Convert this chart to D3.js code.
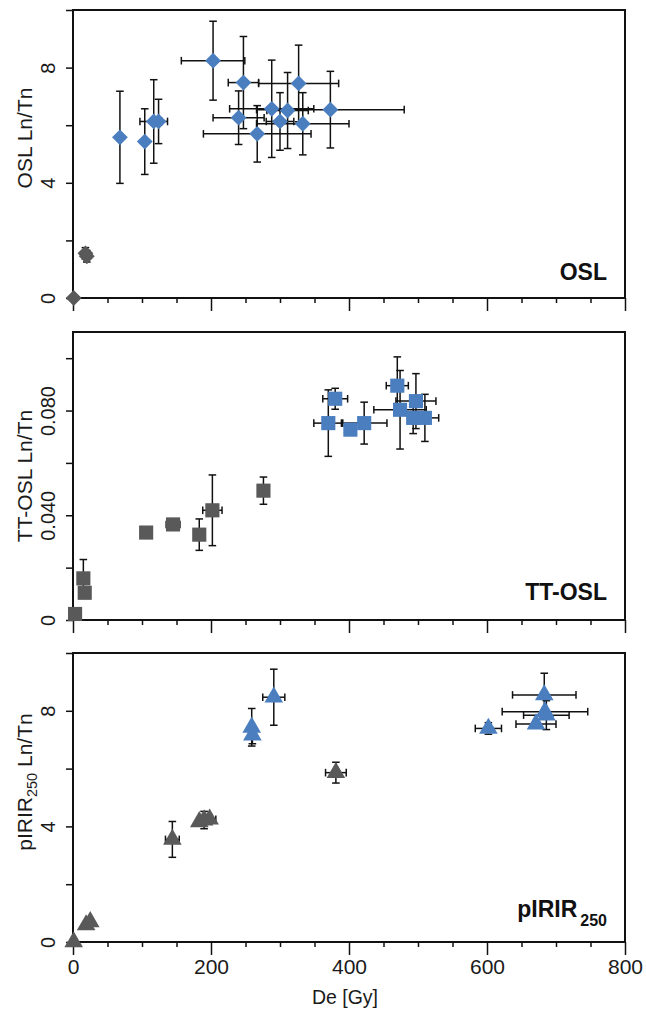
<!DOCTYPE html>
<html><head><meta charset="utf-8">
<script src="https://cdn.jsdelivr.net/npm/d3@7"></script>
<style>body{margin:0;background:#fff}svg{display:block}</style>
</head><body><svg id="c" width="646" height="1013"></svg>
<script>
// ---------- data ----------
const deTicks = d3.range(0, 801, 50);
const deLabels = [0, 200, 400, 600, 800];

// OSL panel
const oslGreyDe    = [1, 18, 20];
const oslGreyLn    = [0, 1.55, 1.45];
const oslGreyDeErr = [0, 3, 3];
const oslGreyLnErr = [0, 0.2, 0.2];
const oslBlueDe    = [68, 104, 117, 124, 203, 247, 240, 267, 288, 300, 311, 327, 333, 373];
const oslBlueLn    = [5.58, 5.43, 6.13, 6.13, 8.24, 7.48, 6.26, 5.70, 6.57, 6.13, 6.51, 7.45, 6.05, 6.54];
const oslBlueDeErr = [0, 0, 20, 5, 46, 22, 37, 78, 61, 20, 30, 58, 67, 107];
const oslBlueLnErr = [1.6, 1.14, 1.45, 0.77, 1.37, 1.6, 0.93, 0.98, 1.69, 1.0, 1.32, 1.33, 1.08, 1.33];
const oslYTicks  = [0, 2, 4, 6, 8, 10];
const oslYLabels = {0: "0", 4: "4", 8: "8"};

// TT-OSL panel
const ttGreyDe    = [3, 15, 17, 106, 145, 183, 202, 276];
const ttGreyLn    = [0.0023, 0.0159, 0.0104, 0.0334, 0.0365, 0.0326, 0.0419, 0.0494];
const ttGreyDeErr = [0, 0, 0, 0, 10, 0, 14, 8];
const ttGreyLnErr = [0, 0.0072, 0, 0, 0, 0.006, 0.0135, 0.0052];
const ttBlueDe    = [370, 380, 402, 422, 470, 474, 497, 493, 510];
const ttBlueLn    = [0.0752, 0.0845, 0.0727, 0.0752, 0.0895, 0.0803, 0.0836, 0.0772, 0.0772];
const ttBlueDeErr = [21, 18, 0, 33, 16, 38, 29, 0, 20];
const ttBlueLnErr = [0.0127, 0.004, 0, 0.008, 0.011, 0.015, 0.0105, 0.006, 0.009];
const ttYTicks  = [0, 0.02, 0.04, 0.06, 0.08, 0.1];
const ttYLabels = {0: "0", 0.04: "0.040", 0.08: "0.080"};

// pIRIR250 panel
const irGreyDe    = [1, 19, 25, 144, 183, 190, 198, 381];
const irGreyLn    = [0, 0.59, 0.70, 3.55, 4.16, 4.22, 4.25, 5.86];
const irGreyDeErr = [0, 0, 0, 10, 0, 0, 9, 15];
const irGreyLnErr = [0, 0, 0, 0.62, 0, 0.3, 0, 0.36];
const irBlueDe    = [259, 260, 291, 602, 683, 684, 686, 671];
const irBlueLn    = [7.43, 7.16, 8.47, 7.39, 8.55, 7.97, 7.85, 7.54];
const irBlueDeErr = [0, 0, 16, 19, 46, 62, 33, 29];
const irBlueLnErr = [0.65, 0.3, 0.97, 0.2, 0.75, 0, 0.5, 0];
const irYTicks  = [0, 2, 4, 6, 8, 10];
const irYLabels = {0: "0", 4: "4", 8: "8"};

// ---------- drawing ----------
const BLUE = "#4a7ebf", GREY = "#595959";
const FONT = "'Liberation Sans', Arial, sans-serif";
const svg = d3.select("#c");
const L = 73, R = 625;
const x = d3.scaleLinear().domain([0, 800]).range([L, R]);

function zip(de, ln, dee, lne) {
  return de.map((d, i) => ({de: d, ln: ln[i], dee: dee[i], lne: lne[i]}));
}

const panels = [
  {top: 10, bottom: 298, ymax: 10, yTicks: oslYTicks, yLabels: oslYLabels, shape: "diamond",
   grey: zip(oslGreyDe, oslGreyLn, oslGreyDeErr, oslGreyLnErr),
   blue: zip(oslBlueDe, oslBlueLn, oslBlueDeErr, oslBlueLnErr),
   title: [["OSL Ln/Tn", false]], titleY: 138, tag: [["OSL", false]], tagY: 280, xlab: false},
  {top: 332, bottom: 620, ymax: 0.11, yTicks: ttYTicks, yLabels: ttYLabels, shape: "square",
   grey: zip(ttGreyDe, ttGreyLn, ttGreyDeErr, ttGreyLnErr),
   blue: zip(ttBlueDe, ttBlueLn, ttBlueDeErr, ttBlueLnErr),
   title: [["TT-OSL Ln/Tn", false]], titleY: 476, tag: [["TT-OSL", false]], tagY: 600, xlab: false},
  {top: 653, bottom: 942, ymax: 10, yTicks: irYTicks, yLabels: irYLabels, shape: "triangle",
   grey: zip(irGreyDe, irGreyLn, irGreyDeErr, irGreyLnErr),
   blue: zip(irBlueDe, irBlueLn, irBlueDeErr, irBlueLnErr),
   title: [["pIRIR", false], ["250", true], [" Ln/Tn", false]], titleY: 782,
   tag: [["pIRIR", false], ["250", true]], tagY: 917, xlab: true}
];

panels.forEach(p => {
  const y = d3.scaleLinear().domain([0, p.ymax]).range([p.bottom, p.top]);
  const g = svg.append("g");

  // x axis
  const xa = g.append("g").attr("transform", `translate(0,${p.bottom})`)
    .call(d3.axisBottom(x).tickValues(deTicks).tickSizeOuter(0)
      .tickFormat(d => (p.xlab && deLabels.includes(d)) ? d : ""));
  xa.select(".domain").remove();
  xa.selectAll(".tick line").attr("y2", d => d % 200 === 0 ? 13 : 5)
    .attr("stroke", "#111").attr("stroke-width", 1.5);
  xa.selectAll(".tick text").attr("y", 32).attr("dy", 0)
    .attr("font-family", FONT).attr("font-size", 21).attr("fill", "#1a1a1a");

  // y axis
  const ya = g.append("g").attr("transform", `translate(${L},0)`)
    .call(d3.axisLeft(y).tickValues(p.yTicks).tickSize(7).tickSizeOuter(0)
      .tickFormat(d => { const k = Object.keys(p.yLabels).find(v => Math.abs(+v - d) < 1e-9); return k !== undefined ? p.yLabels[k] : ""; }));
  ya.select(".domain").remove();
  ya.selectAll(".tick line").attr("stroke", "#111").attr("stroke-width", 1.5);
  ya.selectAll(".tick text").attr("x", null).attr("dy", 0).attr("y", 0)
    .attr("transform", "translate(-18,0) rotate(-90)")
    .attr("text-anchor", "middle")
    .attr("font-family", FONT).attr("font-size", 20).attr("fill", "#1a1a1a");

  // frame
  g.append("rect").attr("x", L).attr("y", p.top).attr("width", R - L).attr("height", p.bottom - p.top)
    .attr("fill", "none").attr("stroke", "#111").attr("stroke-width", 2);

  // y title
  const t = g.append("text").attr("transform", `translate(32,${p.titleY}) rotate(-90)`)
    .attr("text-anchor", "middle").attr("font-family", FONT).attr("font-size", 21).attr("fill", "#1a1a1a");
  p.title.forEach(([s, sub]) => {
    const ts = t.append("tspan").text(s);
    if (sub) ts.attr("font-size", 14.5).attr("dy", 5);
    else if (t.selectAll("tspan").size() > 1) ts.attr("dy", -5);
  });

  // panel tag
  const tg = g.append("text").attr("x", 607).attr("y", p.tagY).attr("text-anchor", "end")
    .attr("font-family", FONT).attr("font-weight", "bold").attr("font-size", 23).attr("fill", "#111");
  p.tag.forEach(([s, sub]) => {
    const ts = tg.append("tspan").text(s);
    if (sub) ts.attr("font-size", 16).attr("dy", 9).attr("dx", 3);
  });

  // error bars
  const all = p.grey.concat(p.blue);
  const eb = g.append("g").attr("stroke", "#111").attr("stroke-width", 1.5).attr("fill", "none");
  const cap = 3.8;
  all.forEach(d => {
    const cx = x(d.de), cy = y(d.ln);
    if (d.lne > 0) {
      const y1 = y(d.ln - d.lne), y2 = y(d.ln + d.lne);
      eb.append("line").attr("x1", cx).attr("x2", cx).attr("y1", y1).attr("y2", y2);
      eb.append("line").attr("x1", cx - cap).attr("x2", cx + cap).attr("y1", y1).attr("y2", y1);
      eb.append("line").attr("x1", cx - cap).attr("x2", cx + cap).attr("y1", y2).attr("y2", y2);
    }
    if (d.dee > 0) {
      const x1 = x(d.de - d.dee), x2 = x(d.de + d.dee);
      eb.append("line").attr("x1", x1).attr("x2", x2).attr("y1", cy).attr("y2", cy);
      eb.append("line").attr("x1", x1).attr("x2", x1).attr("y1", cy - cap).attr("y2", cy + cap);
      eb.append("line").attr("x1", x2).attr("x2", x2).attr("y1", cy - cap).attr("y2", cy + cap);
    }
  });

  // markers
  let sym, rot = 0;
  if (p.shape === "diamond") { sym = d3.symbol(d3.symbolSquare, 125); rot = 45; }
  else if (p.shape === "square") { sym = d3.symbol(d3.symbolSquare, 200); }
  else { sym = d3.symbol(d3.symbolTriangle, 150); }
  [[p.grey, GREY], [p.blue, BLUE]].forEach(([arr, col]) => {
    g.append("g").selectAll("path").data(arr).join("path")
      .attr("d", sym)
      .attr("transform", d => `translate(${x(d.de)},${y(d.ln)}) rotate(${rot})`)
      .attr("fill", col);
  });
});

// x axis title
svg.append("text").attr("x", 345).attr("y", 1004).attr("text-anchor", "middle")
  .attr("font-family", FONT).attr("font-size", 19.5).attr("fill", "#1a1a1a").text("De [Gy]");
</script>
</body></html>
